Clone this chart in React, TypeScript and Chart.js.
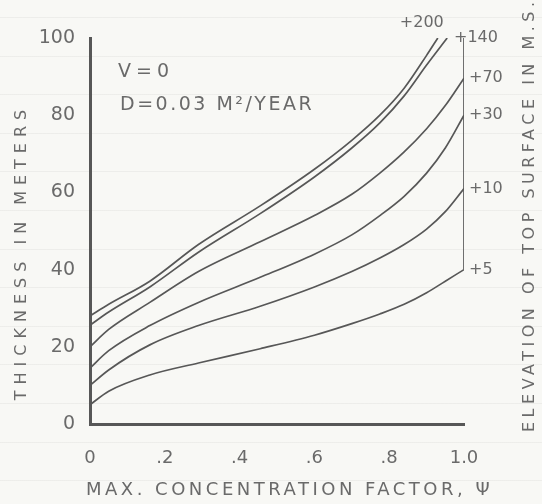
import React, { useEffect, useRef } from "react";
import { Chart, registerables } from "chart.js";

Chart.register(...registerables);

// Max. concentration factor (psi) and thickness in meters for each elevation curve
const PSI_200 = [0, 0.05, 0.16, 0.29, 0.455, 0.6, 0.7, 0.775, 0.84, 0.9, 0.93];
const THICK_200 = [28, 31, 37, 46.5, 56.5, 66, 73.5, 80, 87, 95.5, 100];

const PSI_140 = [0, 0.05, 0.16, 0.29, 0.455, 0.6, 0.7, 0.775, 0.84, 0.9, 0.955];
const THICK_140 = [25.6, 29, 35.5, 44.5, 54.5, 64, 71.5, 78, 85, 93, 100];

const PSI_STD = [0, 0.05, 0.16, 0.29, 0.455, 0.6, 0.7, 0.775, 0.84, 0.9, 0.95, 1.0];
const THICK_70 = [20, 24.5, 31.5, 39.5, 47.2, 54, 59.5, 65, 70.5, 76.5, 82.5, 89.6];
const THICK_30 = [14.5, 19, 25.5, 31.5, 38, 44, 49, 54, 59, 65, 71.5, 80];
const THICK_10 = [10, 14, 20.5, 25.5, 30.5, 35.5, 39.5, 43, 46.5, 50.5, 55, 61];
const THICK_5 = [5, 8.5, 12.7, 15.8, 19.5, 23, 26, 28.5, 31, 34, 37, 40];

const ELEV_LABELS = ["+200", "+140", "+70", "+30", "+10", "+5"];

// right-hand elevation axis: from psi = 1.0, thickness 40 up to 100
const RIGHT_AXIS_PSI = [1, 1];
const RIGHT_AXIS_THICK = [40, 100];

const X_TICKS = ["0", ".2", ".4", ".6", ".8", "1.0"];

const INK = "#575757";
const TEXT = "#6a6a6a";
const FONT = "'DejaVu Sans', sans-serif";

function pts(xs: number[], ys: number[]) {
  return xs.map((x, i) => ({ x, y: ys[i] }));
}

export default function App() {
  const ref = useRef<HTMLCanvasElement | null>(null);

  useEffect(() => {
    document.body.style.margin = "0";
    document.body.style.background =
      "repeating-linear-gradient(180deg, transparent 0px, transparent 17px, rgba(0,0,0,0.045) 17px, rgba(0,0,0,0.045) 18px, transparent 18px, transparent 38.6px), #f8f8f5";
    const canvas = ref.current;
    if (!canvas) return;

    const series = [
      pts(PSI_200, THICK_200),
      pts(PSI_140, THICK_140),
      pts(PSI_STD, THICK_70),
      pts(PSI_STD, THICK_30),
      pts(PSI_STD, THICK_10),
      pts(PSI_STD, THICK_5),
    ];

    const datasets: any[] = series.map((d, i) => ({
      label: ELEV_LABELS[i],
      data: d,
      borderColor: INK,
      borderWidth: 1.7,
      pointRadius: 0,
      fill: false,
      cubicInterpolationMode: "monotone",
    }));
    datasets.push({
      label: "axis",
      data: pts(RIGHT_AXIS_PSI, RIGHT_AXIS_THICK),
      borderColor: INK,
      borderWidth: 1.7,
      pointRadius: 0,
      fill: false,
    });

    const textPlugin = {
      id: "texts",
      afterDraw(chart: any) {
        const ctx = chart.ctx;
        const xs = chart.scales.x;
        const ys = chart.scales.y;
        const area = chart.chartArea;
        ctx.save();
        ctx.fillStyle = TEXT;
        ctx.textBaseline = "middle";

        // elevation labels at curve ends
        ctx.font = `16px ${FONT}`;
        series.forEach((d, i) => {
          const last = d[d.length - 1];
          const px = xs.getPixelForValue(last.x);
          const py = ys.getPixelForValue(last.y);
          const axisX = xs.getPixelForValue(1);
          if (i === 0) {
            ctx.textAlign = "center";
            ctx.fillText(ELEV_LABELS[i], px - 16, py - 15);
          } else if (i === 1) {
            ctx.textAlign = "left";
            ctx.fillText(ELEV_LABELS[i], axisX - 10, py);
          } else {
            ctx.textAlign = "left";
            ctx.fillText(ELEV_LABELS[i], axisX + 5, py);
          }
        });

        // annotations
        ctx.textAlign = "left";
        ctx.font = `19px ${FONT}`;
        (ctx as any).letterSpacing = "5px";
        ctx.fillText("V=0", area.left + 28, 72);
        (ctx as any).letterSpacing = "2.5px";
        ctx.fillText("D=0.03 M²/YEAR", area.left + 30, 105);

        // left axis title
        (ctx as any).letterSpacing = "6px";
        ctx.font = `16px ${FONT}`;
        ctx.save();
        ctx.translate(22, 252);
        ctx.rotate(-Math.PI / 2);
        ctx.textAlign = "center";
        ctx.fillText("THICKNESS IN METERS", 0, 0);
        ctx.restore();

        // right axis title
        (ctx as any).letterSpacing = "4.5px";
        ctx.save();
        ctx.translate(530, 432);
        ctx.rotate(-Math.PI / 2);
        ctx.textAlign = "left";
        ctx.fillText("ELEVATION OF TOP SURFACE IN M.S.L.", 0, 0);
        ctx.restore();

        // x axis title
        (ctx as any).letterSpacing = "3.5px";
        ctx.font = `18px ${FONT}`;
        ctx.textAlign = "left";
        ctx.fillText("MAX. CONCENTRATION FACTOR, Ψ", 86, 490);
        ctx.restore();
      },
    };

    const chart = new Chart(canvas, {
      type: "line",
      data: { datasets },
      options: {
        animation: false,
        responsive: false,
        layout: { padding: { left: 0, top: 38, right: 78, bottom: 0 } },
        plugins: { legend: { display: false }, tooltip: { enabled: false } },
        scales: {
          x: {
            type: "linear",
            min: 0,
            max: 1,
            afterFit(s: any) {
              s.height = 80;
            },
            grid: { display: false },
            border: { display: true, color: INK, width: 3 },
            ticks: {
              stepSize: 0.2,
              padding: 16,
              color: TEXT,
              font: { family: FONT, size: 18 },
              callback: (v: any) => {
                const idx = Math.round(Number(v) * 5);
                return X_TICKS[idx] ?? "";
              },
            },
          },
          y: {
            type: "linear",
            min: 0,
            max: 100,
            afterFit(s: any) {
              s.width = 90;
            },
            grid: { display: false },
            border: { display: true, color: INK, width: 3 },
            ticks: {
              stepSize: 20,
              padding: 7,
              color: TEXT,
              font: { family: FONT, size: 19 },
            },
          },
        },
      },
      plugins: [textPlugin],
    });

    return () => chart.destroy();
  }, []);

  return <canvas ref={ref} width={542} height={504} style={{ display: "block" }} />;
}
